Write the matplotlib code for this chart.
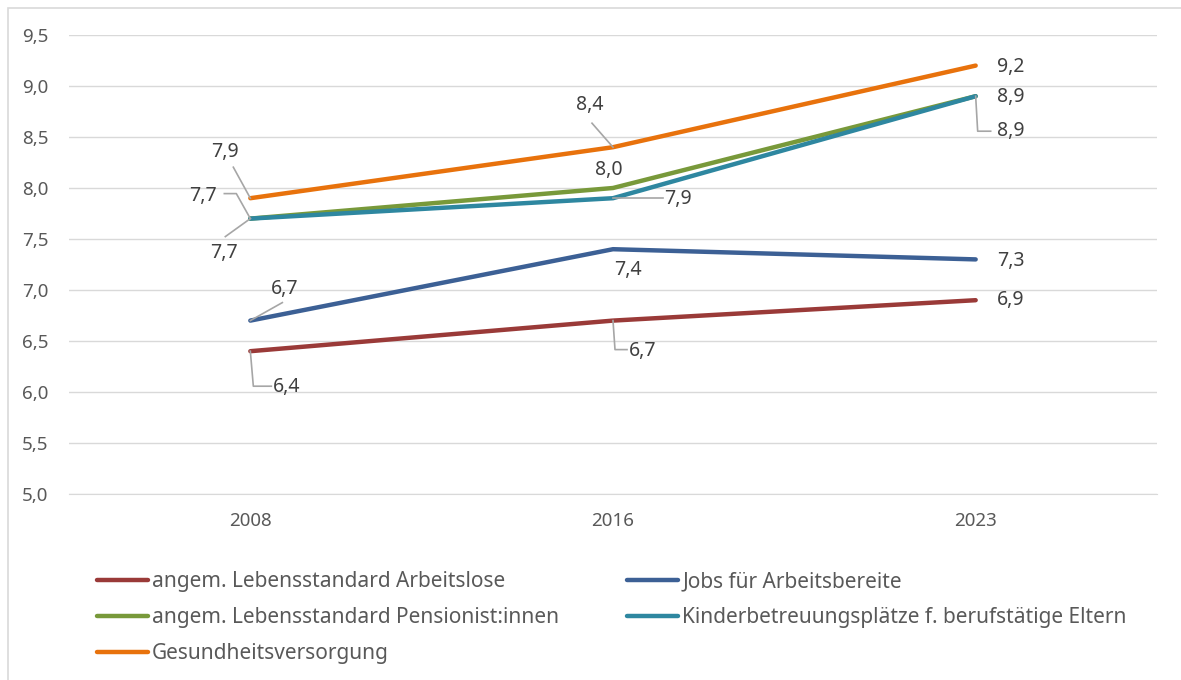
import matplotlib
matplotlib.use("Agg")
import matplotlib.pyplot as plt
from matplotlib.lines import Line2D
from matplotlib.patches import Rectangle
from matplotlib.transforms import IdentityTransform

plt.rcParams['font.family'] = ['Noto Sans', 'DejaVu Sans']

years = ["2008", "2016", "2023"]
series_names = [
    "angem. Lebensstandard Arbeitslose",
    "Jobs für Arbeitsbereite",
    "angem. Lebensstandard Pensionist:innen",
    "Kinderbetreuungsplätze f. berufstätige Eltern",
    "Gesundheitsversorgung",
]
arbeitslose = [6.4, 6.7, 6.9]
jobs = [6.7, 7.4, 7.3]
pensionisten = [7.7, 8.0, 8.9]
kinderbetreuung = [7.7, 7.9, 8.9]
gesundheit = [7.9, 8.4, 9.2]
values = [arbeitslose, jobs, pensionisten, kinderbetreuung, gesundheit]
colors = ["#9A3A38", "#3C6095", "#78993A", "#2E87A0", "#E8720C"]
yticks = [5.0, 5.5, 6.0, 6.5, 7.0, 7.5, 8.0, 8.5, 9.0, 9.5]

# label offsets in pixels (dx right, dy down) and leader paths relative to the point
label_style = {
    (0, 0): ((36, 36), [(0, 0), (3, 35), (21, 35)]),
    (0, 1): ((30, 30), [(0, 0), (2, 29), (14, 29)]),
    (0, 2): ((35, 0), None),
    (1, 0): ((34, -32), [(0, 0), (32, -18)]),
    (1, 1): ((15, 21), None),
    (1, 2): ((35, 2), None),
    (2, 0): ((-47, -23), [(0, 0), (-14, -25), (-26, -25)]),
    (2, 1): ((-4, -18), None),
    (2, 2): ((35, 1), None),
    (3, 0): ((-26, 34), [(0, 0), (-25, 18)]),
    (3, 1): ((65, 1), [(0, 0), (50, 0)]),
    (3, 2): ((35, 35), [(0, 0), (2, 35), (15, 35)]),
    (4, 0): ((-25, -46), [(0, 0), (-17, -31)]),
    (4, 1): ((-23, -42), [(0, 0), (-21, -24)]),
    (4, 2): ((35, 1), None),
}

W, H = 1181, 680
fig = plt.figure(figsize=(W / 100, H / 100), dpi=100)
ax = fig.add_axes([69 / W, 1 - 494 / H, (1157 - 69) / W, (494 - 35) / H])

x = list(range(len(years)))
handles = []
for i, (name, vals, c) in enumerate(zip(series_names, values, colors)):
    h, = ax.plot(x, vals, color=c, lw=3.2, solid_capstyle='round',
                 solid_joinstyle='round', label=name, zorder=3)
    handles.append(h)

ax.set_xlim(-0.5, len(years) - 0.5)
ax.set_ylim(5.0, 9.5)
ax.set_yticks(yticks)
ax.set_yticklabels([f"{v:.1f}".replace(".", ",") for v in yticks])
ax.set_xticks(x)
ax.set_xticklabels(years)
ax.grid(axis='y', color='#D9D9D9', lw=1)
ax.set_axisbelow(True)
for s in ['top', 'right', 'left']:
    ax.spines[s].set_visible(False)
ax.spines['bottom'].set_color('#D9D9D9')
ax.tick_params(axis='both', length=0, labelsize=13.5, labelcolor='#595959')
ax.tick_params(axis='y', pad=15)
ax.tick_params(axis='x', pad=13)

fig.canvas.draw()
for (si, pi), ((dx, dy), leader) in label_style.items():
    v = values[si][pi]
    px, py = ax.transData.transform((x[pi], v))
    ax.text(px + dx, py - dy, f"{v:.1f}".replace(".", ","), transform=IdentityTransform(),
            ha='center', va='center', fontsize=14, color='#404040', zorder=5)
    if leader:
        xs = [px + a for a, b in leader]
        ys = [py - b for a, b in leader]
        fig.add_artist(Line2D(xs, ys, transform=IdentityTransform(), color='#A6A6A6',
                              lw=1.2, zorder=4))

order = [0, 2, 4, 1, 3]
leg = fig.legend(handles=[handles[i] for i in order],
                 labels=[series_names[i] for i in order], loc='upper left',
                 bbox_to_anchor=(97 / W, 1 - 571 / H), ncol=2, frameon=False,
                 fontsize=15, handlelength=2.45, handletextpad=0.2,
                 columnspacing=3.25, labelspacing=0.72, borderpad=0, borderaxespad=0)
for t in leg.get_texts():
    t.set_color('#595959')

fig.add_artist(Rectangle((8 / W, -0.1), 1.2, 1 - 8 / H + 0.1, transform=fig.transFigure,
                         fill=False, edgecolor='#D9D9D9', lw=1.2))

fig.savefig("out.png", dpi=100)
